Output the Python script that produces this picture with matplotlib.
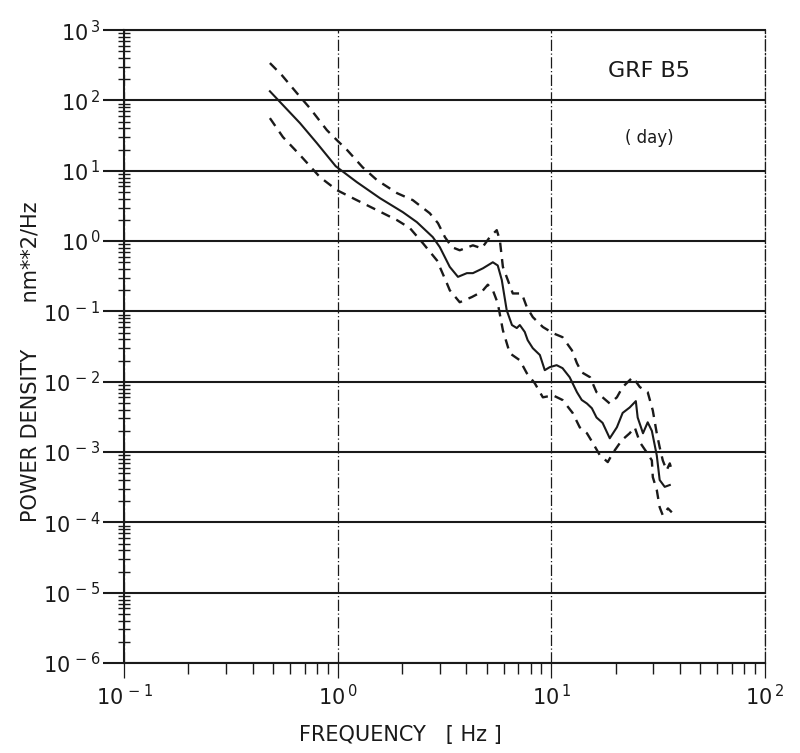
import matplotlib.pyplot as plt
import numpy as np
from matplotlib.ticker import LogLocator, FuncFormatter, NullFormatter

# mean spectrum
freq_mean = [0.482, 0.667, 0.80, 0.98, 1.23, 1.58, 2.02, 2.35, 2.79, 3.01, 3.35, 3.66,
             4.03, 4.30, 4.79, 5.33, 5.62, 5.87, 6.19, 6.55, 6.90, 7.13, 7.52, 7.76,
             8.20, 8.85, 9.33, 9.84, 10.6, 11.3, 12.2, 13.2, 13.9, 14.7, 15.5, 16.3,
             17.4, 18.8, 20.3, 21.6, 23.3, 24.9, 25.4, 26.9, 28.3, 29.6, 31.2, 32.2,
             34.0, 35.9]
psd_mean = [135, 47.5, 24.7, 11.6, 6.9, 4.07, 2.58, 1.86, 1.14, 0.82, 0.43, 0.31,
            0.35, 0.35, 0.41, 0.50, 0.45, 0.28, 0.104, 0.064, 0.058, 0.064, 0.051, 0.039,
            0.030, 0.024, 0.0146, 0.0161, 0.0172, 0.0156, 0.0116, 0.0071, 0.0055, 0.0049,
            0.0042, 0.0031, 0.0026, 0.00157, 0.00225, 0.0036, 0.0043, 0.0053, 0.0031,
            0.00185, 0.00265, 0.0020, 0.00090, 0.00040, 0.00032, 0.00034]

# upper confidence limit
freq_hi = [0.482, 0.548, 0.645, 0.742, 0.891, 0.993, 1.11, 1.31, 1.53, 1.90, 2.25, 2.70,
           2.95, 3.18, 3.43, 3.73, 4.30, 4.73, 5.16, 5.56, 5.75, 5.94, 6.61, 7.28, 7.69,
           8.20, 9.14, 10.2, 11.3, 12.5, 13.2, 13.9, 15.2, 16.3, 17.4, 18.8, 20.3, 21.6,
           24.1, 26.0, 28.3, 29.9, 31.2, 32.2, 33.3, 34.7, 35.9, 36.7]
psd_hi = [340, 229, 127, 77.6, 37.8, 27.2, 19.6, 11.2, 7.35, 4.80, 3.82, 2.49,
          1.80, 1.14, 0.82, 0.74, 0.87, 0.79, 1.14, 1.43, 1.03, 0.43, 0.18, 0.18, 0.115,
          0.083, 0.060, 0.049, 0.043, 0.028, 0.0183, 0.0136, 0.0116, 0.0071, 0.0060,
          0.0049, 0.0060, 0.0084, 0.0116, 0.0084, 0.0071, 0.0039, 0.00185, 0.00117,
          0.00076, 0.00055, 0.00069, 0.00055]

# lower confidence limit
freq_lo = [0.482, 0.555, 0.667, 0.827, 0.993, 1.23, 1.53, 1.90, 2.18, 2.51, 2.92, 3.25,
           3.35, 3.73, 4.25, 4.73, 5.05, 5.33, 5.62, 5.94, 6.40, 7.13, 7.69, 8.38, 9.14,
           10.2, 11.3, 12.6, 13.6, 14.7, 15.7, 16.9, 18.4, 19.4, 21.4, 23.3, 24.6, 26.0,
           28.0, 29.6, 29.9, 31.2, 32.2, 33.3, 35.2, 36.7]
psd_lo = [56.0, 30.1, 16.7, 8.11, 5.30, 3.82, 2.75, 1.98, 1.53, 0.93, 0.53, 0.25,
          0.20, 0.135, 0.16, 0.19, 0.24, 0.20, 0.131, 0.054, 0.0254, 0.0202, 0.0132,
          0.0095, 0.0060, 0.0064, 0.0055, 0.0036, 0.00225, 0.00185, 0.00133, 0.00090,
          0.00072, 0.00096, 0.00147, 0.00185, 0.00225, 0.00138, 0.00099, 0.00076,
          0.00044, 0.00029, 0.000164, 0.000126, 0.000158, 0.000139]

ink = '#1a1a1a'

fig = plt.figure(figsize=(8, 7.53), dpi=100)
ax = fig.add_axes([0.155, 0.1195, 0.801, 0.8405])
ax.set_xscale('log')
ax.set_yscale('log')
ax.set_xlim(0.1, 100)
ax.set_ylim(1e-6, 1e3)

ax.plot(freq_mean, psd_mean, color=ink, lw=1.5)
ax.plot(freq_hi, psd_hi, color=ink, lw=1.7, ls=(0, (4, 3)))
ax.plot(freq_lo, psd_lo, color=ink, lw=1.7, ls=(0, (4, 3)))

ax.yaxis.set_major_locator(LogLocator(base=10, numticks=20))
ax.yaxis.set_minor_locator(LogLocator(base=10, subs=np.arange(2, 10), numticks=20))
ax.xaxis.set_major_locator(LogLocator(base=10, numticks=10))
ax.xaxis.set_minor_locator(LogLocator(base=10, subs=np.arange(2, 10), numticks=10))

fmt = FuncFormatter(lambda v, pos: r'$\mathregular{10^{\,%d}}$' % round(np.log10(v)))
ax.xaxis.set_major_formatter(fmt)
ax.yaxis.set_major_formatter(fmt)
ax.xaxis.set_minor_formatter(NullFormatter())
ax.yaxis.set_minor_formatter(NullFormatter())

ax.grid(axis='y', which='major', color=ink, lw=1.5, ls='-')
ax.grid(axis='x', which='major', color=ink, lw=0.9, ls=(0, (9, 2, 1, 2)))

for side in ['left', 'bottom', 'top']:
    ax.spines[side].set_linewidth(1.5)
    ax.spines[side].set_color(ink)
ax.spines['right'].set_linewidth(0.9)
ax.spines['right'].set_linestyle((0, (9, 2, 1, 2)))
ax.spines['right'].set_color(ink)

ax.tick_params(axis='y', which='major', direction='out', length=15, width=1.5,
               pad=2, labelsize=15, colors=ink)
ax.tick_params(axis='y', which='minor', direction='inout', length=8, width=1.0, colors=ink)
ax.tick_params(axis='x', which='major', direction='out', length=11, width=0.9,
               pad=4, labelsize=15, colors=ink)
ax.tick_params(axis='x', which='minor', direction='out', length=8, width=1.0, colors=ink)

ax.text(0.82, 0.935, 'GRF B5', transform=ax.transAxes, fontsize=16,
        ha='center', va='center', color=ink)
ax.text(0.82, 0.83, '( day)', transform=ax.transAxes, fontsize=12,
        ha='center', va='center', color=ink)

fig.text(0.5, 0.024, 'FREQUENCY   [ Hz ]', fontsize=15, ha='center', va='center', color=ink)
fig.text(0.038, 0.52, 'POWER DENSITY       nm**2/Hz', fontsize=15, rotation=90,
         ha='center', va='center', color=ink)

fig.savefig('out.png', dpi=100)
